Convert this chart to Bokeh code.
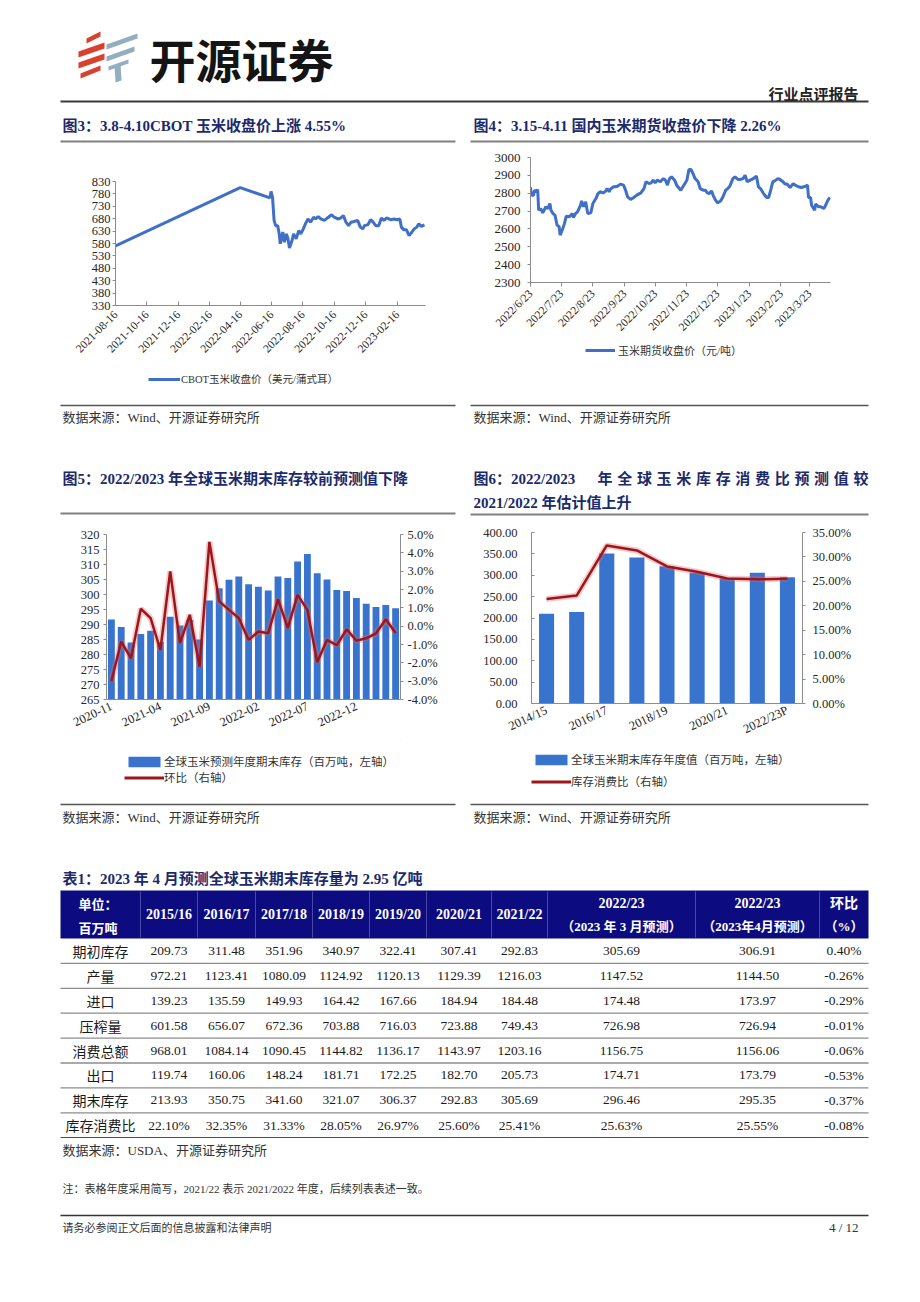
import numpy as np
import pandas as pd
from math import pi
from bokeh.plotting import figure
from bokeh.layouts import column, row
from bokeh.models import (Range1d, LinearAxis, FixedTicker, SingleIntervalTicker,
                          PrintfTickFormatter, Legend, LegendItem)
from bokeh.core.properties import value
from bokeh.embed import file_html
from bokeh.resources import INLINE

# ======================= DATA =======================
# Fig 3: CBOT corn close (USD / bushel)
C3_DATES = ["2021-08-16", "2022-04-16", "2022-06-13", "2022-06-15", "2022-06-18", "2022-06-21",
            "2022-06-24", "2022-06-28", "2022-07-01", "2022-07-03", "2022-07-06", "2022-07-08",
            "2022-07-11", "2022-07-15", "2022-07-18", "2022-07-21", "2022-07-26", "2022-07-29",
            "2022-08-03", "2022-08-08", "2022-08-12", "2022-08-17", "2022-08-21", "2022-08-26",
            "2022-08-31", "2022-09-06", "2022-09-10", "2022-09-15", "2022-09-20", "2022-09-27",
            "2022-10-03", "2022-10-11", "2022-10-16", "2022-10-23", "2022-10-29", "2022-11-03",
            "2022-11-08", "2022-11-13", "2022-11-18", "2022-11-24", "2022-12-01", "2022-12-06",
            "2022-12-11", "2022-12-14", "2022-12-21", "2022-12-26", "2022-12-31", "2023-01-05",
            "2023-01-11", "2023-01-16", "2023-01-21", "2023-01-26", "2023-02-03", "2023-02-10",
            "2023-02-16", "2023-02-21", "2023-02-24", "2023-03-01", "2023-03-06", "2023-03-11",
            "2023-03-15", "2023-03-21", "2023-03-26", "2023-03-30", "2023-04-04", "2023-04-10"]
C3_PRICE = [570, 805, 764, 790, 765, 673,
            652, 652, 619, 579, 606, 626,
            585, 619, 599, 562, 592, 619,
            599, 632, 619, 639, 659, 679,
            666, 686, 679, 689, 679, 673,
            683, 696, 686, 679, 683, 693,
            666, 652, 666, 669, 673, 646,
            639, 652, 656, 676, 666, 652,
            652, 683, 673, 683, 676, 679,
            676, 679, 646, 635, 635, 612,
            622, 639, 646, 659, 649, 655]
C3_END = "2023-04-12"
C3_XTICKS = ["2021-08-16", "2021-10-16", "2021-12-16", "2022-02-16", "2022-04-16",
             "2022-06-16", "2022-08-16", "2022-10-16", "2022-12-16", "2023-02-16"]
C3_YTICKS = [330, 380, 430, 480, 530, 580, 630, 680, 730, 780, 830]

# Fig 4: domestic corn futures close (CNY / t); x = days after C4_START
C4_START = "2022-06-23"
C4_END = "2023-04-12"
C4_DAY = [0, 1, 3, 4, 6, 7, 8, 10, 12, 15, 17, 19, 20, 22, 24, 26, 28, 29, 31, 33,
          35, 38, 41, 42, 44, 46, 49, 50, 52, 54, 56, 59, 61, 64, 66, 68, 71, 73, 75, 77,
          78, 81, 83, 85, 88, 91, 93, 95, 98, 101, 104, 108, 111, 113, 116, 118, 120, 122, 124, 127,
          130, 132, 134, 136, 138, 141, 143, 147, 150, 153, 155, 157, 159, 161, 164, 166, 169, 171, 173, 175,
          177, 179, 181, 183, 186, 188, 191, 193, 195, 198, 200, 203, 205, 208, 210, 212, 215, 218, 221, 223,
          225, 228, 231, 233, 235, 237, 239, 242, 244, 247, 249, 251, 254, 257, 259, 262, 265, 269, 271, 272,
          274, 275, 278, 279, 282, 284, 287, 288, 291, 293]
C4_PRICE = [2832, 2789, 2789, 2817, 2808, 2821, 2705, 2714, 2690, 2724, 2714, 2742, 2705, 2686, 2677, 2621, 2612, 2565, 2593, 2627,
            2671, 2668, 2686, 2664, 2686, 2696, 2733, 2757, 2724, 2752, 2686, 2690, 2742, 2770, 2798, 2808, 2802, 2808, 2826, 2808,
            2821, 2836, 2836, 2839, 2851, 2845, 2817, 2780, 2765, 2776, 2789, 2802, 2826, 2864, 2854, 2858, 2873, 2858, 2873, 2864,
            2882, 2873, 2845, 2882, 2892, 2873, 2845, 2817, 2845, 2873, 2933, 2933, 2910, 2882, 2864, 2826, 2817, 2817, 2802, 2798,
            2813, 2784, 2761, 2746, 2757, 2776, 2817, 2826, 2839, 2882, 2892, 2877, 2877, 2882, 2901, 2864, 2873, 2882, 2896, 2836,
            2826, 2798, 2776, 2776, 2817, 2864, 2869, 2882, 2877, 2864, 2851, 2851, 2832, 2854, 2845, 2836, 2832, 2839, 2845, 2776,
            2776, 2733, 2705, 2739, 2724, 2724, 2714, 2724, 2761, 2776]
C4_XTICKS = ["2022/6/23", "2022/7/23", "2022/8/23", "2022/9/23", "2022/10/23",
             "2022/11/23", "2022/12/23", "2023/1/23", "2023/2/23", "2023/3/23"]

# Fig 5: global corn ending stocks forecast by month (Mt) and m/m change (%)
MONTHS5 = ["2020-11", "2020-12", "2021-01", "2021-02", "2021-03", "2021-04", "2021-05", "2021-06",
           "2021-07", "2021-08", "2021-09", "2021-10", "2021-11", "2021-12", "2022-01", "2022-02",
           "2022-03", "2022-04", "2022-05", "2022-06", "2022-07", "2022-08", "2022-09", "2022-10",
           "2022-11", "2022-12", "2023-01", "2023-02", "2023-03", "2023-04"]
STOCK5 = [291.7, 289.2, 284.0, 286.8, 287.9, 284.2, 292.6, 289.7, 291.5, 285.0,
          298.0, 302.1, 304.9, 306.0, 303.4, 302.6, 301.3, 306.0, 305.5, 311.0,
          313.5, 307.1, 305.0, 301.5, 301.2, 298.8, 296.9, 295.8, 296.5, 295.4]
MOM5 = [-3.0, -0.84, -1.75, 0.95, 0.44, -1.30, 2.99, -0.93, 0.62, -2.21,
        4.60, 1.35, 0.89, 0.44, -0.75, -0.29, -0.39, 1.48, -0.11, 1.71,
        0.89, -1.97, -0.75, -1.04, -0.17, -0.79, -0.66, -0.39, 0.38, -0.37]

# Fig 6: global corn ending stocks by season (Mt) and stocks-to-use (%)
YEARS6 = ["2014/15", "2015/16", "2016/17", "2017/18", "2018/19", "2019/20", "2020/21", "2021/22", "2022/23P"]
STOCK6 = [209.73, 213.93, 350.75, 341.60, 321.07, 306.37, 292.83, 305.69, 295.35]
RATIO6 = [21.4, 22.10, 32.35, 31.33, 28.05, 26.97, 25.60, 25.41, 25.55]

# Table 1
T_YEARS = ["2015/16", "2016/17", "2017/18", "2018/19", "2019/20", "2020/21", "2021/22"]
T_HEAD2 = [("2022/23", "（2023 年 3 月预测）"), ("2022/23", "（2023年4月预测）"), ("环比", "（%）")]
T_ROWS = ["期初库存", "产量", "进口", "压榨量", "消费总额", "出口", "期末库存", "库存消费比"]
T_VALUES = [
    ["209.73", "311.48", "351.96", "340.97", "322.41", "307.41", "292.83", "305.69", "306.91", "0.40%"],
    ["972.21", "1123.41", "1080.09", "1124.92", "1120.13", "1129.39", "1216.03", "1147.52", "1144.50", "-0.26%"],
    ["139.23", "135.59", "149.93", "164.42", "167.66", "184.94", "184.48", "174.48", "173.97", "-0.29%"],
    ["601.58", "656.07", "672.36", "703.88", "716.03", "723.88", "749.43", "726.98", "726.94", "-0.01%"],
    ["968.01", "1084.14", "1090.45", "1144.82", "1136.17", "1143.97", "1203.16", "1156.75", "1156.06", "-0.06%"],
    ["119.74", "160.06", "148.24", "181.71", "172.25", "182.70", "205.73", "174.71", "173.79", "-0.53%"],
    ["213.93", "350.75", "341.60", "321.07", "306.37", "292.83", "305.69", "296.46", "295.35", "-0.37%"],
    ["22.10%", "32.35%", "31.33%", "28.05%", "26.97%", "25.60%", "25.41%", "25.63%", "25.55%", "-0.08%"],
]

# logo stripes (decoration)
LOGO_RED_XS = [[86, 100, 100, 86], [78, 104, 104, 78], [78, 104, 104, 78], [80, 100, 100, 80]]
LOGO_RED_YS = [[38, 31, 36, 43], [51, 42, 48, 57], [62, 53, 59, 68], [73, 65, 70, 78]]
LOGO_GREY_XS = [[106, 137, 137, 106], [106, 134, 134, 106], [108, 128, 128, 108], [114, 120, 121, 115]]
LOGO_GREY_YS = [[44, 33, 38, 49], [56, 46, 51, 61], [66, 59, 63, 70], [66, 64, 80, 82]]

# ======================= STYLE =======================
SERIF = "Liberation Serif, Noto Sans CJK SC"
CJK = "Noto Sans CJK SC"
NAVY = "#1B2A6B"
TXT = "#262626"
AXIS_C = "#8C8C8C"
BLUE_L = "#3F6FC6"
BAR_C = "#3874CE"
RED_C = "#9E151B"
HEAD_C = "#0C0C80"
PAGE_W = 912


def blank(w, h, xr=None, yr=None, left=0, right=0):
    p = figure(width=w, height=h, x_range=xr or Range1d(0, 1), y_range=yr or Range1d(0, 1),
               output_backend="svg", toolbar_location=None, min_border=0,
               x_axis_location=None, y_axis_location=None)
    p.min_border_left = left
    p.min_border_right = right
    p.outline_line_color = None
    p.grid.visible = False
    p.background_fill_color = "white"
    p.border_fill_color = "white"
    return p


def band(y0, y1):
    return blank(PAGE_W, y1 - y0, Range1d(0, PAGE_W), Range1d(y1, y0))


def txt(p, x, y, s, size, color=TXT, bold=False, align="left", font=SERIF):
    xs = list(x) if isinstance(x, (list, tuple, np.ndarray)) else [x]
    ys = list(y) if isinstance(y, (list, tuple, np.ndarray)) else [y] * len(xs)
    ss = list(s) if isinstance(s, (list, tuple)) else [s] * len(xs)
    p.text(x=xs, y=ys, text=ss, text_font=value(font), text_font_size=value(f"{size}px"),
           text_color=color, text_font_style="bold" if bold else "normal",
           text_align=align, text_baseline="middle")


def hline(p, x0, x1, y, color="#7F7F7F", w=1.5):
    p.segment(x0=[x0], y0=[y], x1=[x1], y1=[y], line_color=color, line_width=w)


def chart(w, h, l, r, t, b, xr, yr):
    p = figure(width=w, height=h, x_range=xr, y_range=yr, output_backend="svg",
               toolbar_location=None, min_border_left=l, min_border_right=r,
               min_border_top=t, min_border_bottom=b)
    p.outline_line_color = None
    p.grid.visible = False
    p.border_fill_color = "white"
    p.background_fill_color = "white"
    return p


def style_axis(ax, tick_in=0, tick_out=3, standoff=4, size=12):
    ax.axis_line_color = AXIS_C
    ax.axis_line_width = 1
    ax.major_tick_line_color = AXIS_C
    ax.major_tick_in = tick_in
    ax.major_tick_out = tick_out
    ax.minor_tick_line_color = None
    ax.major_label_text_font = "Liberation Serif"
    ax.major_label_text_font_size = f"{size}px"
    ax.major_label_text_color = TXT
    ax.major_label_standoff = standoff


def legend_fig(w, h, left, right, entries, loc, gw, gh, lh, spacing=0, standoff=1, size=12):
    """Legend strip under a chart; its frame lines up with the chart frame.
    Proxy renderers carry the same styles; their data sit outside the visible range."""
    p = blank(w, h, left=left, right=right)
    items = []
    for label, kind, style in entries:
        if kind == "line":
            r = p.line(x=[5, 6], y=[5, 5], **style)
        else:
            r = p.vbar(x=[5], top=[6], bottom=[5], width=0.5, **style)
        items.append(LegendItem(label=label, renderers=[r]))
    lg = Legend(items=items, location=loc, border_line_color=None, padding=0, margin=0,
                spacing=spacing, glyph_width=gw, glyph_height=gh, label_height=lh,
                label_standoff=standoff, label_text_font=SERIF,
                label_text_font_size=f"{size}px", label_text_color="#333333",
                background_fill_alpha=0)
    p.add_layout(lg)
    return p


# ======================= HEADER BAND (y 0..146) =======================
b1 = band(0, 146)
b1.patches(xs=LOGO_RED_XS, ys=LOGO_RED_YS, fill_color="#D8412F", line_color=None)
b1.patches(xs=LOGO_GREY_XS, ys=LOGO_GREY_YS, fill_color="#93AEBF", line_color=None)
txt(b1, 149, 57, "开源证券", 46, color="#141414", bold=True, font=CJK)
txt(b1, 858, 93, "行业点评报告", 15, color="#222222", bold=True, align="right", font=CJK)
hline(b1, 60, 868, 101, color="#3A3A3A", w=2)
txt(b1, 62, 125, "图3：3.8-4.10CBOT 玉米收盘价上涨 4.55%", 15, color=NAVY, bold=True)
txt(b1, 473, 125, "图4：3.15-4.11 国内玉米期货收盘价下降 2.26%", 15, color=NAVY, bold=True)
hline(b1, 60, 455, 141, color="#808080", w=2)
hline(b1, 470, 868, 141, color="#808080", w=2)

# ======================= FIG 3 (y 146..365) + legend (365..398) =======================
t0_3 = pd.Timestamp(C3_DATES[0])
d3 = np.array((pd.to_datetime(C3_DATES) - t0_3).days)
xt3 = [int(v) for v in (pd.to_datetime(C3_XTICKS) - t0_3).days]
end3 = (pd.Timestamp(C3_END) - t0_3).days
p3 = chart(462, 219, 115, 37, 35, 60, Range1d(0, end3), Range1d(330, 830))
p3.line(d3, C3_PRICE, line_color=BLUE_L, line_width=3)
p3.yaxis.ticker = FixedTicker(ticks=C3_YTICKS)
p3.xaxis.ticker = FixedTicker(ticks=xt3)
p3.xaxis.major_label_overrides = {v: s for v, s in zip(xt3, C3_XTICKS)}
p3.xaxis.major_label_orientation = pi / 4
style_axis(p3.yaxis[0], tick_out=3, standoff=2, size=12.5)
style_axis(p3.xaxis[0], tick_in=4, tick_out=0, standoff=7, size=11.5)
lg3 = legend_fig(462, 33, 115, 37,
                 [("CBOT玉米收盘价（美元/蒲式耳）", "line", dict(line_color=BLUE_L, line_width=3))],
                 (33, 12), 32, 14, 14, standoff=1, size=10.5)

# ======================= FIG 4 (y 146..342) + legend (342..398) =======================
t0_4 = pd.Timestamp(C4_START)
xt4 = [int(v) for v in (pd.to_datetime(C4_XTICKS, format="%Y/%m/%d") - t0_4).days]
end4 = (pd.Timestamp(C4_END) - t0_4).days + 0.5
p4 = chart(450, 196, 68, 82, 11, 60, Range1d(0, end4), Range1d(2300, 3000))
p4.line(C4_DAY, C4_PRICE, line_color=BLUE_L, line_width=3)
p4.yaxis.ticker = SingleIntervalTicker(interval=100)
p4.xaxis.ticker = FixedTicker(ticks=xt4)
p4.xaxis.major_label_overrides = {v: s for v, s in zip(xt4, C4_XTICKS)}
p4.xaxis.major_label_orientation = pi / 4
style_axis(p4.yaxis[0], tick_out=3, standoff=6, size=13)
style_axis(p4.xaxis[0], tick_out=4, standoff=5, size=11.5)
lg4 = legend_fig(450, 56, 68, 82,
                 [("玉米期货收盘价（元/吨）", "line", dict(line_color=BLUE_L, line_width=3))],
                 (55, 40), 30, 14, 14, standoff=3, size=11)

# ======================= BAND 2 (y 398..520) =======================
b2 = band(398, 520)
hline(b2, 60, 455, 405, color="#555555", w=1.5)
hline(b2, 470, 868, 405, color="#555555", w=1.5)
txt(b2, 62, 417, "数据来源：Wind、开源证券研究所", 13, color="#333333")
txt(b2, 473, 417, "数据来源：Wind、开源证券研究所", 13, color="#333333")
txt(b2, 62, 478, "图5：2022/2023 年全球玉米期末库存较前预测值下降", 15, color=NAVY, bold=True)
txt(b2, 473, 478, "图6：2022/2023", 15, color=NAVY, bold=True)
f6_chars = list("年全球玉米库存消费比预测值较")
txt(b2, np.linspace(597, 853, len(f6_chars)), 478, f6_chars, 15, color=NAVY, bold=True)
txt(b2, 473, 502, "2021/2022 年估计值上升", 15, color=NAVY, bold=True)
hline(b2, 60, 455, 513, color="#808080", w=2)
hline(b2, 470, 868, 514, color="#808080", w=2)

# ======================= FIG 5 (y 520..739) + legend (739..795) =======================
x5 = np.arange(len(MONTHS5))
p5 = chart(462, 219, 106, 62, 14, 40, Range1d(-0.5, len(MONTHS5) - 0.5), Range1d(265, 320))
p5.extra_y_ranges = {"r": Range1d(-4, 5)}
p5.vbar(x=x5, top=STOCK5, bottom=265, width=0.7, fill_color=BAR_C, line_color=None)
p5.line(x5, MOM5, y_range_name="r", line_color="#E06A6A", line_alpha=0.35, line_width=6)
p5.line(x5, MOM5, y_range_name="r", line_color=RED_C, line_width=2.5)
ax5r = LinearAxis(y_range_name="r", ticker=SingleIntervalTicker(interval=1),
                  formatter=PrintfTickFormatter(format="%.1f%%"))
p5.add_layout(ax5r, "right")
p5.yaxis[0].ticker = SingleIntervalTicker(interval=5)
xt5 = list(range(0, len(MONTHS5), 5))
p5.xaxis.ticker = FixedTicker(ticks=xt5)
p5.xaxis.major_label_overrides = {i: MONTHS5[i] for i in xt5}
p5.xaxis.major_label_orientation = 25 * pi / 180
style_axis(p5.yaxis[0], tick_out=3, standoff=3, size=12.5)
style_axis(ax5r, tick_out=3, standoff=3, size=12.5)
style_axis(p5.xaxis[0], tick_out=0, standoff=6, size=12.5)
p5.xaxis.major_tick_line_color = None
lg5 = legend_fig(462, 56, 106, 62,
                 [("全球玉米预测年度期末库存（百万吨，左轴）", "bar", dict(fill_color=BAR_C, line_color=None)),
                  ("环比（右轴）", "line", dict(line_color=RED_C, line_width=3))],
                 (18, 10), 40, 13, 13, spacing=0, standoff=0, size=11.5)

# ======================= FIG 6 (y 520..745) + legend (745..795) =======================
x6 = np.arange(len(YEARS6))
p6 = chart(450, 225, 69, 110, 12, 42, Range1d(-0.5, len(YEARS6) - 0.5), Range1d(0, 400))
p6.extra_y_ranges = {"r": Range1d(0, 35)}
p6.vbar(x=x6, top=STOCK6, bottom=0, width=0.5, fill_color=BAR_C, line_color=None)
p6.line(x6, RATIO6, y_range_name="r", line_color="#E06A6A", line_alpha=0.35, line_width=6)
p6.line(x6, RATIO6, y_range_name="r", line_color=RED_C, line_width=2.5)
ax6r = LinearAxis(y_range_name="r", ticker=SingleIntervalTicker(interval=5),
                  formatter=PrintfTickFormatter(format="%.2f%%"))
p6.add_layout(ax6r, "right")
p6.yaxis[0].ticker = SingleIntervalTicker(interval=50)
p6.yaxis[0].formatter = PrintfTickFormatter(format="%.2f")
xt6 = list(range(0, len(YEARS6), 2))
p6.xaxis.ticker = FixedTicker(ticks=xt6)
p6.xaxis.major_label_overrides = {i: YEARS6[i] for i in xt6}
p6.xaxis.major_label_orientation = 25 * pi / 180
style_axis(p6.yaxis[0], tick_in=3, tick_out=0, standoff=10, size=12.5)
style_axis(ax6r, tick_out=3, standoff=6, size=12.5)
style_axis(p6.xaxis[0], tick_out=0, standoff=6, size=12.5)
p6.xaxis.major_tick_line_color = None
lg6 = legend_fig(450, 50, 69, 110,
                 [("全球玉米期末库存年度值（百万吨，左轴）", "bar", dict(fill_color=BAR_C, line_color=None)),
                  ("库存消费比（右轴）", "line", dict(line_color=RED_C, line_width=3))],
                 (0, 6), 40, 13, 13, spacing=6, standoff=0, size=11.5)

# ======================= BAND 3 (y 795..889) =======================
b3 = band(795, 889)
hline(b3, 60, 455, 804, color="#555555", w=1.5)
hline(b3, 470, 868, 804, color="#555555", w=1.5)
txt(b3, 62, 817, "数据来源：Wind、开源证券研究所", 13, color="#333333")
txt(b3, 473, 817, "数据来源：Wind、开源证券研究所", 13, color="#333333")
txt(b3, 62, 878, "表1：2023 年 4 月预测全球玉米期末库存量为 2.95 亿吨", 15, color=NAVY, bold=True)

# ======================= TABLE (y 889..1138) =======================
COL_EDGES = [60, 140, 197, 255, 312, 369, 426, 491, 547, 695, 819, 868]
HEAD_TOP, HEAD_BOT, ROW_H = 890, 938, 24.9
pt = band(889, 1138)
pt.quad(left=[COL_EDGES[0]], right=[COL_EDGES[-1]], top=[HEAD_TOP], bottom=[HEAD_BOT],
        fill_color=HEAD_C, line_color=None)
inner = COL_EDGES[1:-1]
pt.segment(x0=inner, y0=[HEAD_TOP + 1] * len(inner), x1=inner, y1=[HEAD_BOT - 1] * len(inner),
           line_color="#4A4AA6", line_width=1)
cx = [(a + b) / 2 for a, b in zip(COL_EDGES[:-1], COL_EDGES[1:])]
txt(pt, 78, 903, "单位：", 13, color="white", bold=True, font=CJK)
txt(pt, 78, 926.5, "百万吨", 13, color="white", bold=True, font=CJK)
txt(pt, cx[1:1 + len(T_YEARS)], 914, T_YEARS, 14, color="white", bold=True, align="center")
k0 = 1 + len(T_YEARS)
txt(pt, cx[k0:], 903, [h[0] for h in T_HEAD2], 14, color="white", bold=True, align="center")
txt(pt, cx[k0:], 926, [h[1] for h in T_HEAD2], 13, color="white", bold=True, align="center")
n_rows = len(T_ROWS)
row_lines = [HEAD_BOT + (i + 1) * ROW_H for i in range(n_rows)]
pt.segment(x0=[COL_EDGES[0]] * (n_rows - 1), y0=row_lines[:-1], x1=[COL_EDGES[-1]] * (n_rows - 1),
           y1=row_lines[:-1], line_color="#8C8C8C", line_width=1.3)
hline(pt, COL_EDGES[0], COL_EDGES[-1], row_lines[-1], color="#4D4D4D", w=1.5)
row_cy = [HEAD_BOT + (i + 0.5) * ROW_H for i in range(n_rows)]
txt(pt, [cx[0]] * n_rows, row_cy, T_ROWS, 14, color="#1A1A1A", align="center", font=CJK)
vx, vy, vs = [], [], []
for i, vals in enumerate(T_VALUES):
    for j, v in enumerate(vals):
        vx.append(cx[j + 1]); vy.append(row_cy[i]); vs.append(v)
txt(pt, vx, vy, vs, 13.5, color="#1A1A1A", align="center", font="Liberation Serif")

# ======================= BAND 4 (y 1138..1294) =======================
b4 = band(1138, 1294)
txt(b4, 62, 1150, "数据来源：USDA、开源证券研究所", 13, color="#333333")
txt(b4, 62, 1188, "注：表格年度采用简写，2021/22 表示 2021/2022 年度，后续列表表述一致。", 11, color="#333333")
hline(b4, 60, 868, 1215, color="#333333", w=1.5)
txt(b4, 62, 1227, "请务必参阅正文后面的信息披露和法律声明", 11, color="#333333")
txt(b4, 858, 1227, "4 / 12", 13, color="#333333", align="right", font="Liberation Serif")

layout = column(b1,
                row(column(p3, lg3), column(p4, lg4)),
                b2,
                row(column(p5, lg5), column(p6, lg6)),
                b3, pt, b4)
open("out.html", "w").write(file_html(layout, INLINE, "开源证券 行业点评报告"))
